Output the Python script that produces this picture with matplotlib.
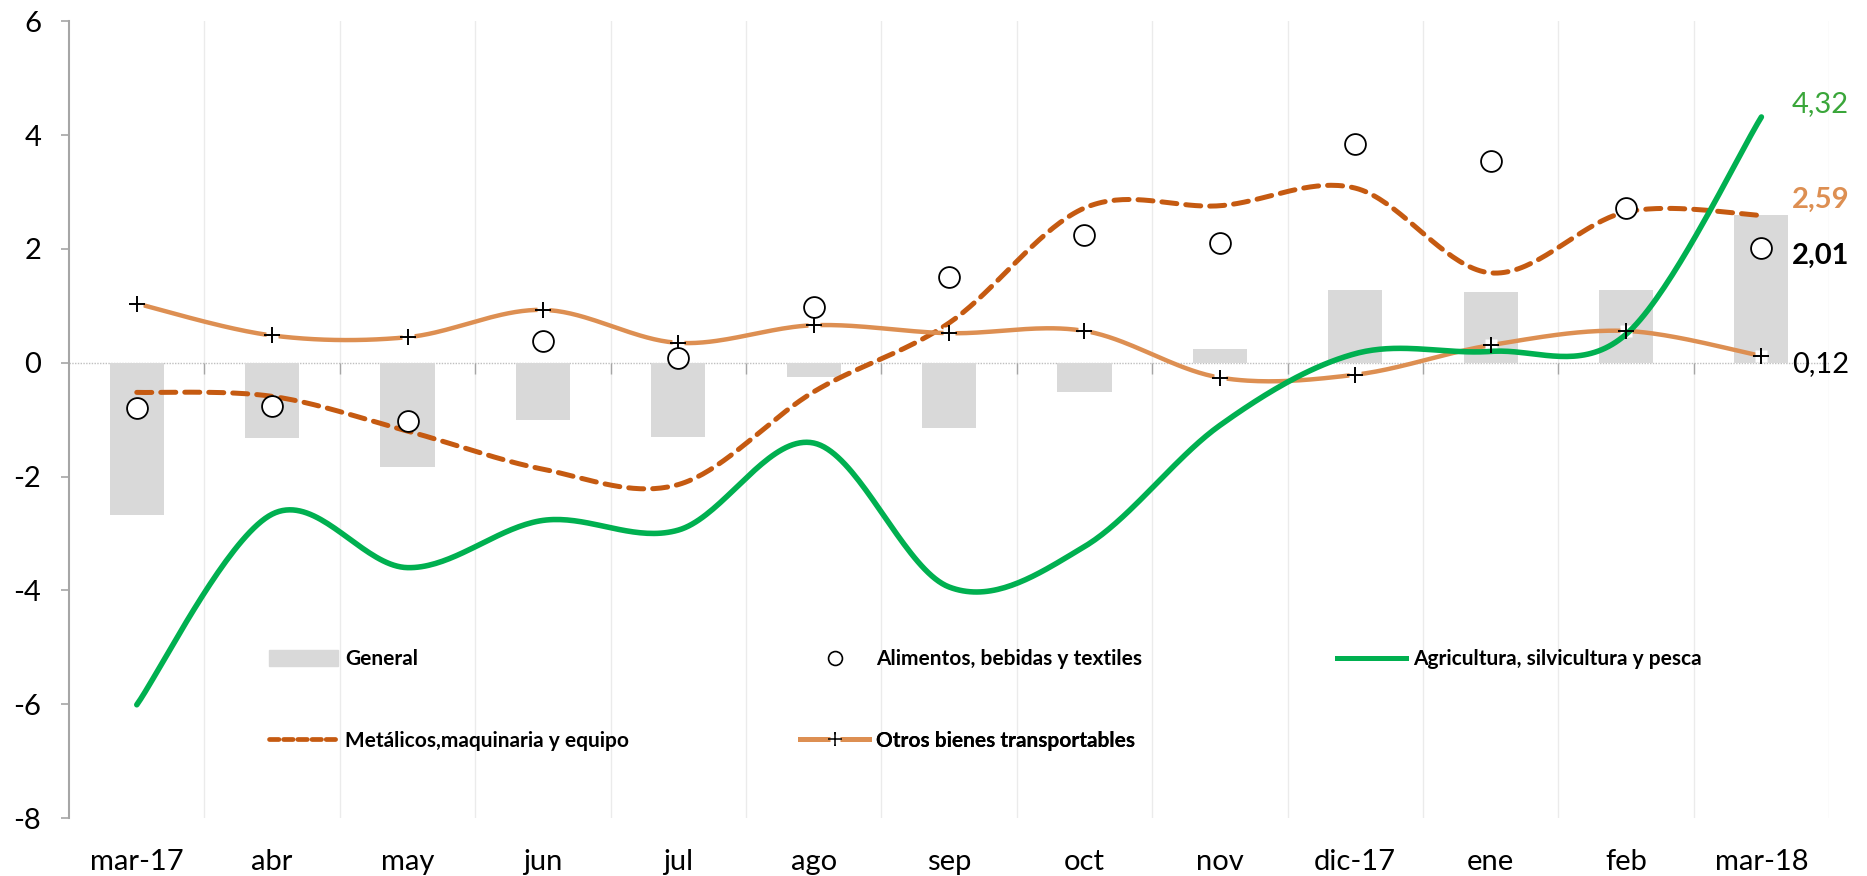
import numpy as np
import matplotlib.pyplot as plt
from matplotlib.lines import Line2D
from matplotlib.patches import Patch
from matplotlib.legend_handler import HandlerTuple

plt.rcParams['font.family'] = ['Lato', 'DejaVu Sans']
plt.rcParams['axes.unicode_minus'] = False

meses = ['mar-17', 'abr', 'may', 'jun', 'jul', 'ago', 'sep', 'oct', 'nov',
         'dic-17', 'ene', 'feb', 'mar-18']

general = [-2.68, -1.33, -1.83, -1.00, -1.30, -0.25, -1.15, -0.52, 0.25,
           1.28, 1.25, 1.28, 2.59]
alimentos = [-0.80, -0.76, -1.03, 0.39, 0.08, 0.98, 1.50, 2.25, 2.11,
             3.84, 3.55, 2.72, 2.01]
agricultura = [-6.01, -2.66, -3.60, -2.77, -2.94, -1.41, -3.94, -3.23, -1.10,
               0.16, 0.20, 0.50, 4.32]
metalicos = [-0.52, -0.59, -1.20, -1.87, -2.14, -0.51, 0.70, 2.72, 2.76,
             3.07, 1.58, 2.65, 2.59]
otros = [1.04, 0.48, 0.45, 0.93, 0.35, 0.66, 0.52, 0.56, -0.26,
         -0.21, 0.31, 0.56, 0.12]

c_gris = '#d9d9d9'
c_verde = '#00b050'
c_metal = '#c55a11'
c_otros = '#dd8f52'


def suave(y, n=40):
    # curva suavizada tipo Excel (bezier con tangentes catmull-rom)
    y = np.asarray(y, float)
    x = np.arange(len(y), dtype=float)
    p = np.column_stack([x, y])
    pp = np.vstack([p[0], p, p[-1]])
    out = []
    t = np.linspace(0, 1, n)[:, None]
    for i in range(len(p) - 1):
        p0, p3 = p[i], p[i + 1]
        c1 = p0 + (pp[i + 2] - pp[i]) / 6
        c2 = p3 - (pp[i + 3] - pp[i + 1]) / 6
        seg = ((1 - t) ** 3) * p0 + 3 * ((1 - t) ** 2) * t * c1 + 3 * (1 - t) * t ** 2 * c2 + t ** 3 * p3
        out.append(seg if i == 0 else seg[1:])
    out = np.vstack(out)
    return out[:, 0], out[:, 1]


fig, ax = plt.subplots(figsize=(18.67, 8.76), dpi=100)
fig.subplots_adjust(left=0.037, right=0.9797, top=0.9756, bottom=0.0662)

x = np.arange(len(meses))

# rejilla vertical entre categorias
bordes = np.arange(-0.5, len(meses), 1.0)[1:]
for b in bordes:
    ax.axvline(b, color='#ebebeb', lw=1, zorder=0)
ax.axhline(0, color='#bfbfbf', lw=1, ls=(0, (1, 1)), zorder=1)
ax.vlines(bordes, -0.2, 0, color='#a6a6a6', lw=1, zorder=1)

ax.bar(x, general, width=0.4, color=c_gris, zorder=2)

xs, ys = suave(metalicos)
ax.plot(xs, ys, color=c_metal, lw=3.6, ls=(0, (3.0, 1.8)), dash_capstyle='round', zorder=3)

xs, ys = suave(otros)
ax.plot(xs, ys, color=c_otros, lw=3.2, zorder=3, solid_capstyle='round')
ax.plot(x, otros, ls='none', marker='s', ms=9, mfc='white', mec='none', zorder=4)
ax.plot(x, otros, ls='none', marker='+', ms=11, mew=1.4, color='black', zorder=5)

xs, ys = suave(agricultura)
ax.plot(xs, ys, color=c_verde, lw=4, zorder=4, solid_capstyle='round')

ax.plot(x, alimentos, ls='none', marker='o', ms=15, mfc='white', mec='black', mew=1.3, zorder=6)

# etiquetas de datos al final
kw = dict(xycoords='data', textcoords='offset points', va='center', ha='left', fontsize=21)
ax.annotate('4,32', (x[-1], agricultura[-1]), xytext=(22, 9), color='#3aa63a', **kw)
ax.annotate('2,59', (x[-1], metalicos[-1]), xytext=(22, 11), color=c_otros, fontweight='bold', **kw)
ax.annotate('2,01', (x[-1], alimentos[-1]), xytext=(22, -5), color='black', fontweight='bold', **kw)
ax.annotate('0,12', (x[-1], otros[-1]), xytext=(22, -6), color='black', **kw)

ax.set_xlim(-0.5, len(meses) - 0.5)
ax.set_ylim(-8, 6)
ax.set_yticks(range(-8, 7, 2))
ax.set_xticks(x)
ax.set_xticklabels(meses)
ax.tick_params(axis='x', length=0, pad=22, labelsize=21)
ax.tick_params(axis='y', length=6, color='#a6a6a6', width=1.2, labelsize=21, pad=14)
for s in ['top', 'right', 'bottom']:
    ax.spines[s].set_visible(False)
ax.spines['left'].set_color('#a6a6a6')
ax.spines['left'].set_linewidth(1.5)

# leyenda
h_gen = Patch(color=c_gris)
h_ali = Line2D([], [], ls='none', marker='o', ms=10, mfc='white', mec='black', mew=1.2)
h_agr = Line2D([], [], color=c_verde, lw=3.6)
h_met = Line2D([], [], color=c_metal, lw=3.4, ls=(0, (2, 1)), dash_capstyle='round')
h_otr = (Line2D([], [], color=c_otros, lw=3.6),
         Line2D([], [], ls='none', marker='s', ms=7, mfc='white', mec='none'),
         Line2D([], [], ls='none', marker='+', ms=10, mew=1.1, color='black'))

entradas = [
    (h_gen, 'General', 0.1137, -5.21),
    (h_ali, 'Alimentos, bebidas y textiles', 0.4154, -5.21),
    (h_agr, 'Agricultura, silvicultura y pesca', 0.7206, -5.21),
    (h_met, 'Metálicos,maquinaria y equipo', 0.1137, -6.64),
    (h_otr, 'Otros bienes transportables', 0.4154, -6.64),
]
for h, lab, xa, yv in entradas:
    ya = (yv + 8) / 14
    lg = ax.legend([h], [lab], loc='center left', bbox_to_anchor=(xa, ya),
                   frameon=False, borderpad=0, borderaxespad=0, handlelength=3.3,
                   handleheight=0.8, handletextpad=0.35,
                   prop={'weight': 'bold', 'size': 15},
                   handler_map={tuple: HandlerTuple(ndivide=1, pad=0)})
    ax.add_artist(lg)

fig.savefig('out.png', dpi=100)
